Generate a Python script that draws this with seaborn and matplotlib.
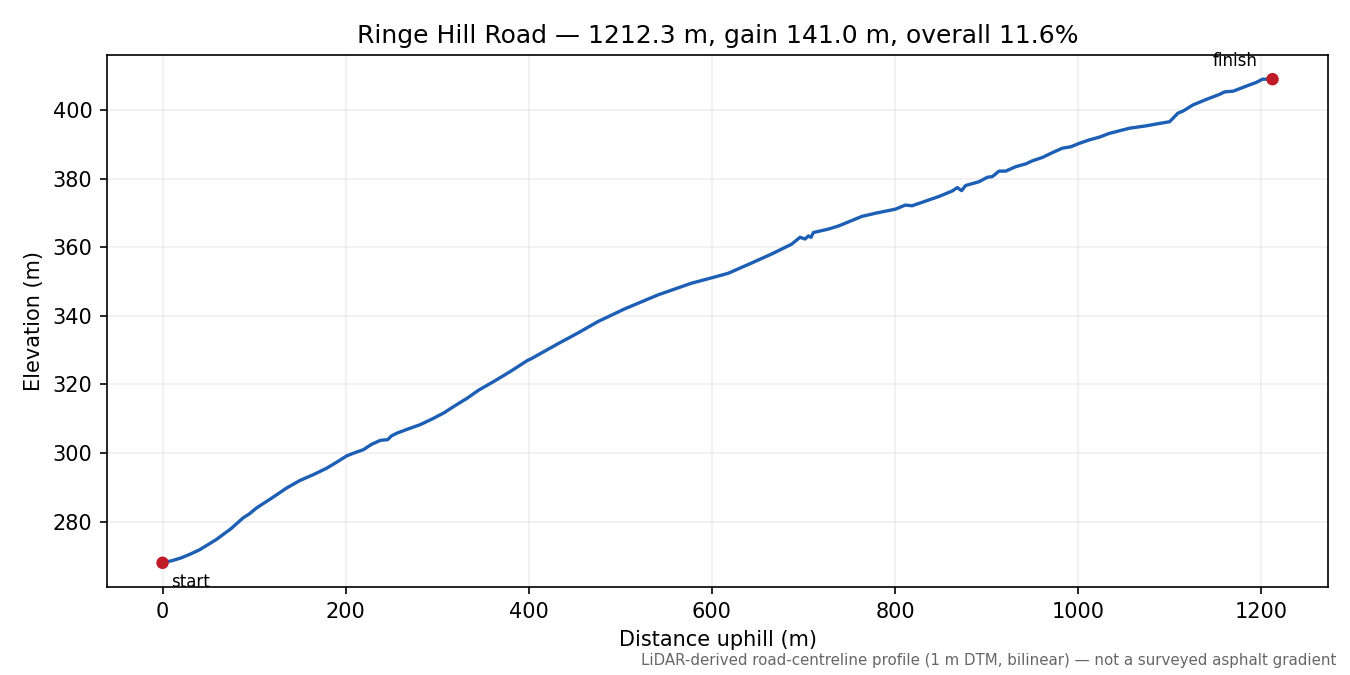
import matplotlib
matplotlib.use("Agg")
import matplotlib.pyplot as plt
import seaborn as sns
import pandas as pd

# Profile (distance uphill in m, elevation in m)
distance_m = [0, 10, 20, 30, 40.5, 58.8, 75, 88, 95, 102.7, 120, 135.5, 150, 164.7,
              179.4, 190, 201.3, 210, 219.5, 228, 237.8, 245.8, 250, 256, 268, 281.6,
              295, 307.2, 318.2, 332.8, 345, 362, 380, 398.6, 402, 431.4, 455, 475.3,
              504.5, 541, 577.5, 601.3, 617.7, 643.3, 665, 687.1, 696.3, 701.7, 705.4,
              708.3, 710.9, 727.3, 738.3, 752.9, 763.8, 780, 800.4, 811.3, 818.6, 829.6,
              847.9, 862.5, 868, 872.7, 877.1, 891.7, 900.8, 906.3, 913.6, 920.9, 931.9,
              942.8, 950.1, 961.1, 972, 983, 992.1, 1001.3, 1012.2, 1023.2, 1034.1, 1056,
              1074.3, 1088.9, 1099.9, 1103.6, 1109, 1114.5, 1125.5, 1140, 1154.7, 1160,
              1169.3, 1183.9, 1194.9, 1201.4, 1212.3]
elevation_m = [268.0, 268.6, 269.4, 270.5, 271.8, 274.8, 278.0, 281.1, 282.3, 284.0,
               287.0, 289.8, 292.0, 293.7, 295.6, 297.3, 299.2, 300.1, 301.0, 302.5,
               303.7, 303.9, 305.0, 305.8, 307.0, 308.3, 310.0, 311.7, 313.6, 316.0,
               318.3, 320.9, 323.8, 327.0, 327.4, 331.8, 335.2, 338.3, 342.0, 346.1,
               349.5, 351.2, 352.4, 355.4, 358.0, 360.9, 362.9, 362.4, 363.3, 362.9,
               364.3, 365.3, 366.2, 367.8, 369.0, 370.0, 371.1, 372.3, 372.1, 373.1,
               374.8, 376.4, 377.4, 376.5, 378.0, 379.1, 380.4, 380.6, 382.2, 382.2,
               383.5, 384.3, 385.2, 386.2, 387.6, 388.9, 389.3, 390.3, 391.3, 392.1,
               393.2, 394.7, 395.4, 396.1, 396.6, 397.6, 399.1, 399.7, 401.5, 403.1,
               404.6, 405.3, 405.5, 407.0, 408.1, 409.0, 409.0]
endpoint_labels = ["start", "finish"]

road_name = "Ringe Hill Road"
footnote = "LiDAR-derived road-centreline profile (1 m DTM, bilinear) \u2014 not a surveyed asphalt gradient"

sns.set_style("ticks")
plt.rcParams["font.family"] = ["DejaVu Sans"]
plt.rcParams["text.color"] = "black"
plt.rcParams["axes.labelcolor"] = "black"

df = pd.DataFrame({"distance": distance_m, "elevation": elevation_m})
length = distance_m[-1]
gain = elevation_m[-1] - elevation_m[0]
overall = gain / length * 100

fig, ax = plt.subplots(figsize=(9, 4.5), dpi=150)
fig.subplots_adjust(left=0.0793, right=0.9837, top=0.9185, bottom=0.1304)

sns.lineplot(data=df, x="distance", y="elevation", ax=ax, color="#1c5fb4",
             linewidth=1.6, sort=False, estimator=None)

ends = df.iloc[[0, -1]].copy()
ends["label"] = endpoint_labels
sns.scatterplot(data=ends, x="distance", y="elevation", ax=ax, color="#c01c28",
                s=36, edgecolor="none", zorder=5)

ax.annotate(endpoint_labels[0], (distance_m[0], elevation_m[0]), xytext=(4, -9),
            textcoords="offset points", fontsize=8, ha="left", va="center")
ax.annotate(endpoint_labels[1], (distance_m[-1], elevation_m[-1]), xytext=(-7, 8.5),
            textcoords="offset points", fontsize=8, ha="right", va="center")

ax.set_title(f"{road_name} \u2014 {length:.1f} m, gain {gain:.1f} m, overall {overall:.1f}%",
             fontsize=12)
ax.set_xlabel("Distance uphill (m)", fontsize=10)
ax.set_ylabel("Elevation (m)", fontsize=10)
ax.tick_params(labelsize=10, color="black", labelcolor="black")
ax.grid(True, alpha=0.3)
for side in ax.spines.values():
    side.set_color("black")
    side.set_linewidth(0.8)

fig.text(0.99, 0.01, footnote, ha="right", va="bottom", fontsize=7.2, color="#666666")

fig.savefig("out.png", dpi=150)
plt.close(fig)
